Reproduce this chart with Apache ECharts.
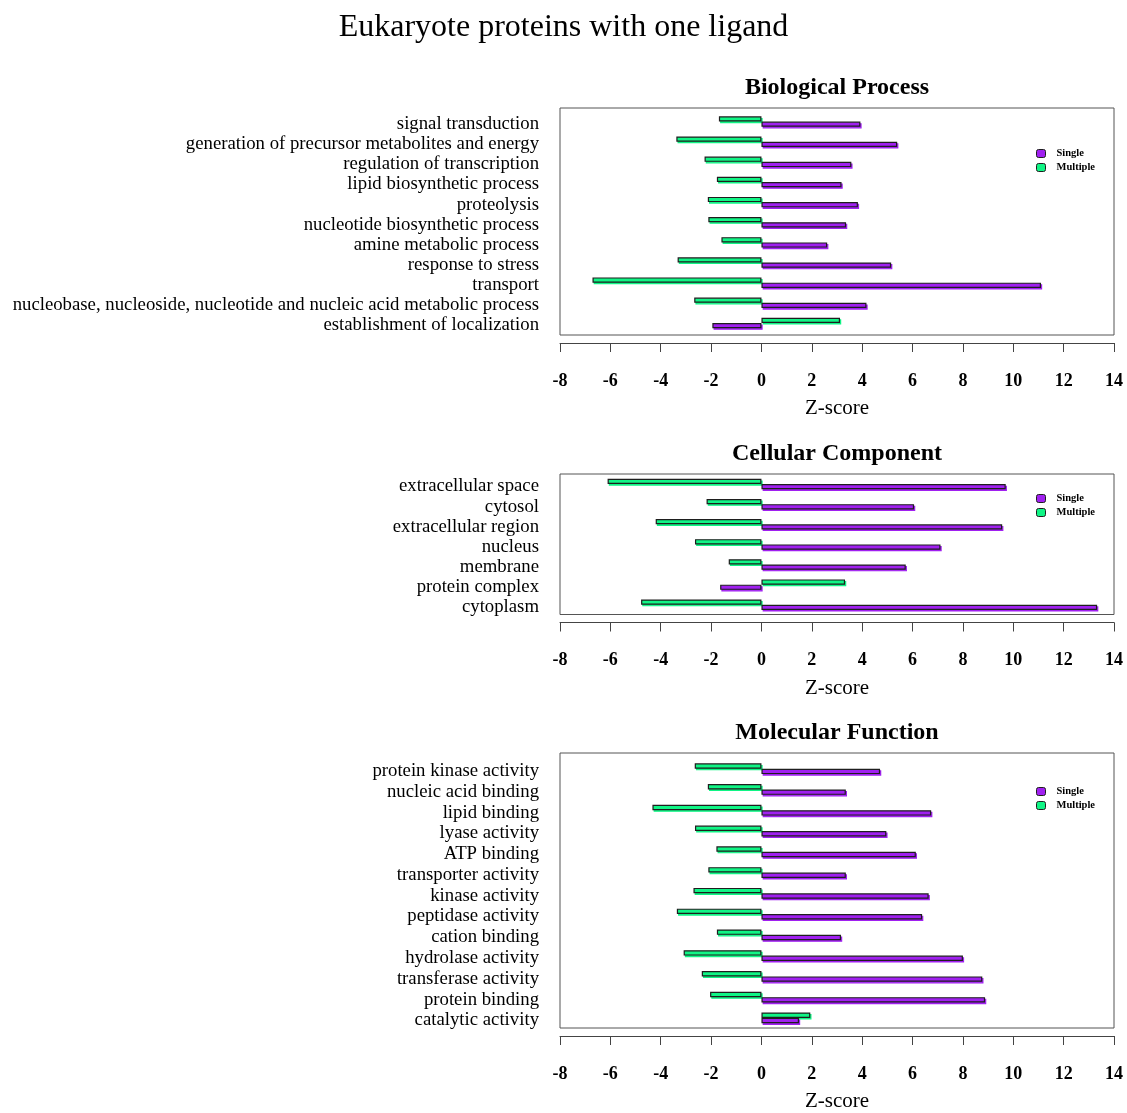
<!DOCTYPE html>
<html>
<head>
<meta charset="utf-8">
<title>Eukaryote proteins with one ligand</title>
<script src="https://cdn.jsdelivr.net/npm/echarts@6/dist/echarts.min.js"></script>
<style>
  html, body { margin: 0; padding: 0; background: #ffffff; }
  #chart { width: 1127px; height: 1113px; }
</style>
</head>
<body>
<div id="chart"></div>
<script>
// Z-scores per GO term, one pair of series per ontology panel
const bpCategories = [
  'signal transduction',
  'generation of precursor metabolites and energy',
  'regulation of transcription',
  'lipid biosynthetic process',
  'proteolysis',
  'nucleotide biosynthetic process',
  'amine metabolic process',
  'response to stress',
  'transport',
  'nucleobase, nucleoside, nucleotide and nucleic acid metabolic process',
  'establishment of localization'
];
const bpSingle   = [3.93, 5.39, 3.57, 3.18, 3.83, 3.36, 2.61, 5.15, 11.10, 4.17, -1.95];
const bpMultiple = [-1.69, -3.38, -2.26, -1.77, -2.13, -2.11, -1.59, -3.33, -6.71, -2.67, 3.12];

const ccCategories = [
  'extracellular space',
  'cytosol',
  'extracellular region',
  'nucleus',
  'membrane',
  'protein complex',
  'cytoplasm'
];
const ccSingle   = [9.70, 6.06, 9.56, 7.11, 5.73, -1.64, 13.33];
const ccMultiple = [-6.11, -2.18, -4.20, -2.64, -1.30, 3.32, -4.78];

const mfCategories = [
  'protein kinase activity',
  'nucleic acid binding',
  'lipid binding',
  'lyase activity',
  'ATP binding',
  'transporter activity',
  'kinase activity',
  'peptidase activity',
  'cation binding',
  'hydrolase activity',
  'transferase activity',
  'protein binding',
  'catalytic activity'
];
const mfSingle   = [4.71, 3.35, 6.74, 4.96, 6.13, 3.35, 6.64, 6.38, 3.16, 8.00, 8.77, 8.88, 1.49];
const mfMultiple = [-2.65, -2.13, -4.33, -2.64, -1.79, -2.11, -2.70, -3.36, -1.77, -3.09, -2.37, -2.04, 1.94];

const zTicks = { min: -8, max: 14, interval: 2 };

const SERIF = '"Liberation Serif", "Times New Roman", serif';
const PURPLE = '#A020F0';
const GREEN = '#10F585';

// panel layout: frame box, and the slightly inset band area the bars use
const panels = [
  { title: 'Biological Process', cats: bpCategories, single: bpSingle, multiple: bpMultiple,
    frame: { top: 108, height: 227 }, bars: { top: 111.5, height: 221.5 }, legendTop: 148 },
  { title: 'Cellular Component', cats: ccCategories, single: ccSingle, multiple: ccMultiple,
    frame: { top: 474, height: 140.5 }, bars: { top: 474, height: 140.8 }, legendTop: 493 },
  { title: 'Molecular Function', cats: mfCategories, single: mfSingle, multiple: mfMultiple,
    frame: { top: 753, height: 280 }, bars: { top: 758.3, height: 270 }, legendTop: 786 }
];

const LEFT = 560, WIDTH = 554;

const grid = [], xAxis = [], yAxis = [], series = [], legend = [];
const title = [{
  text: 'Eukaryote proteins with one ligand',
  left: 'center', top: 12, padding: 0,
  textStyle: { fontFamily: SERIF, fontSize: 32, fontWeight: 'normal', color: '#000' }
}];

function barStyle(color) {
  return {
    color: color,
    borderColor: '#1e1e1e',
    borderWidth: 1.2,
    shadowColor: color,
    shadowBlur: 0,
    shadowOffsetX: 1.2,
    shadowOffsetY: 1.6
  };
}

panels.forEach((p) => {
  const frameIdx = grid.length;
  grid.push({
    left: LEFT, width: WIDTH, top: p.frame.top, height: p.frame.height,
    show: true, borderColor: '#555', borderWidth: 1, backgroundColor: 'transparent'
  });
  const dataIdx = grid.length;
  grid.push({ left: LEFT, width: WIDTH, top: p.bars.top, height: p.bars.height });

  // frame axes carry the Z-score scale drawn just below the box
  xAxis.push({
    type: 'value', gridIndex: frameIdx,
    min: zTicks.min, max: zTicks.max, interval: zTicks.interval,
    position: 'bottom', offset: 8,
    name: 'Z-score', nameLocation: 'middle', nameGap: 55,
    nameTextStyle: { fontFamily: SERIF, fontSize: 21, color: '#000' },
    axisLine: { show: true, onZero: false, lineStyle: { color: '#444', width: 1 } },
    axisTick: { show: true, length: 9, inside: false, lineStyle: { color: '#444' } },
    axisLabel: { margin: 29, fontFamily: SERIF, fontSize: 18, fontWeight: 'bold', color: '#000' },
    splitLine: { show: false }
  });
  yAxis.push({ type: 'value', gridIndex: frameIdx, show: false, min: 0, max: 1 });

  xAxis.push({
    type: 'value', gridIndex: dataIdx,
    min: zTicks.min, max: zTicks.max, interval: zTicks.interval, show: false
  });
  // term names sit a touch below the centre of each bar pair
  yAxis.push({
    type: 'category', gridIndex: dataIdx, data: p.cats, inverse: true,
    axisLine: { show: false }, axisTick: { show: false }, splitLine: { show: false },
    axisLabel: {
      margin: 21, fontFamily: SERIF, fontSize: 18.75, color: '#000', interval: 0,
      verticalAlign: 'top', lineHeight: 5
    }
  });

  title.push({
    text: p.title, left: LEFT + WIDTH / 2, textAlign: 'center',
    top: p.frame.top - 32, padding: 0,
    textStyle: { fontFamily: SERIF, fontSize: 24, fontWeight: 'bold', color: '#000' }
  });

  const bandW = p.bars.height / p.cats.length;
  const barW = bandW * 0.26;

  series.push({
    name: 'Multiple', type: 'bar', xAxisIndex: dataIdx, yAxisIndex: dataIdx,
    data: p.multiple, barWidth: barW, barGap: '0%',
    itemStyle: barStyle(GREEN), silent: true
  });
  series.push({
    name: 'Single', type: 'bar', xAxisIndex: dataIdx, yAxisIndex: dataIdx,
    data: p.single, barWidth: barW, barGap: '0%',
    itemStyle: barStyle(PURPLE), silent: true
  });

  legend.push({
    data: [
      { name: 'Single', itemStyle: { color: PURPLE, borderColor: '#1e1e1e', borderWidth: 1 } },
      { name: 'Multiple', itemStyle: { color: GREEN, borderColor: '#1e1e1e', borderWidth: 1 } }
    ],
    orient: 'vertical', left: 1036, top: p.legendTop,
    icon: 'roundRect', itemWidth: 9, itemHeight: 8, itemGap: 3,
    padding: 0, selectedMode: false,
    textStyle: {
      fontFamily: SERIF, fontSize: 10.5, fontWeight: 'bold', color: '#000',
      lineHeight: 10, padding: [0, 0, 0, 6]
    }
  });
});

const chart = echarts.init(document.getElementById('chart'), null, { renderer: 'canvas' });
chart.setOption({
  backgroundColor: '#ffffff',
  animation: false,
  title: title,
  legend: legend,
  grid: grid,
  xAxis: xAxis,
  yAxis: yAxis,
  series: series
});
</script>
</body>
</html>
